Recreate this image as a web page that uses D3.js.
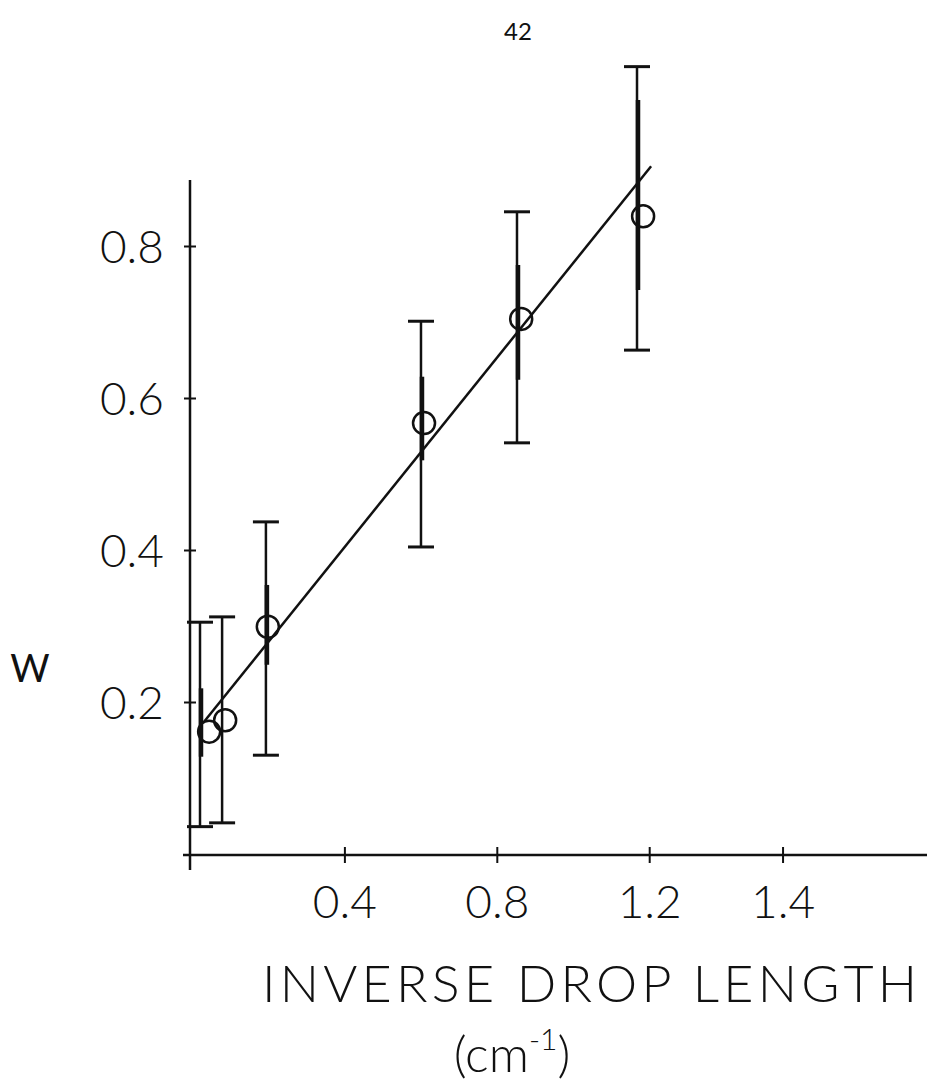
<!DOCTYPE html>
<html>
<head>
<meta charset="utf-8">
<script src="https://cdn.jsdelivr.net/npm/d3@7"></script>
<style>
  body { margin: 0; background: #fff; }
  svg text { font-family: Lato, 'DejaVu Sans', sans-serif; font-weight: 300; fill: #111; }
</style>
</head>
<body>
<div id="chart"></div>
<script>
// data
const xVals = [0.045, 0.087, 0.199, 0.609, 0.864, 1.184]
const yVals = [0.161, 0.176, 0.299, 0.567, 0.704, 0.839]
// error bars (drawn slightly off the point in the original)
const errX = [0.021, 0.079, 0.194, 0.601, 0.853, 1.168]
const errLow = [0.036, 0.041, 0.130, 0.404, 0.541, 0.663]
const errHigh = [0.305, 0.312, 0.437, 0.701, 0.845, 1.036]
const innerLow = [0.128, null, 0.249, 0.518, 0.624, 0.742]
const innerHigh = [0.218, null, 0.354, 0.628, 0.775, 0.992]
// straight fit line end points
const fitX = [0.03, 1.205]
const fitY = [0.173, 0.905]

const xTickValues = [0.4, 0.8, 1.2, 1.55]
const xTickLabels = ['0.4', '0.8', '1.2', '1.4']
const yTickValues = [0.2, 0.4, 0.6, 0.8]
const yTickLabels = ['0.2', '0.4', '0.6', '0.8']

const width = 927
const height = 1092
const x0 = 192 // pixel of x = 0
const y0 = 854 // pixel of y = 0

const svg = d3.select('#chart').append('svg').attr('width', width).attr('height', height)

const xScale = d3.scaleLinear().domain([0, 1]).range([x0, x0 + 381])
const yScale = d3.scaleLinear().domain([0, 1]).range([y0, y0 - 760])

// page number
svg.append('text').attr('x', 518).attr('y', 40).attr('text-anchor', 'middle')
  .attr('font-size', 24).style('font-weight', 400).text('42')

// axes drawn by hand style: plain lines with crossing ticks
const xAxis = d3.axisBottom(xScale)
  .tickValues(xTickValues)
  .tickFormat((d, i) => xTickLabels[i])
  .tickSizeInner(8).tickSizeOuter(0).tickPadding(22)

svg.append('g')
  .attr('class', 'x-axis')
  .attr('transform', `translate(0,${y0 + 1})`)
  .call(xAxis)
  .call((g) => {
    g.select('.domain').remove()
    g.selectAll('.tick line').attr('y1', -8).attr('stroke', '#111').attr('stroke-width', 2)
    g.selectAll('.tick text').attr('font-size', 46).attr('font-family', null).attr('fill', '#111')
  })

svg.append('line')
  .attr('x1', x0 - 9).attr('x2', width)
  .attr('y1', y0 + 1).attr('y2', y0 + 1)
  .attr('stroke', '#111').attr('stroke-width', 2.5)

const yAxis = d3.axisLeft(yScale)
  .tickValues(yTickValues)
  .tickFormat((d, i) => yTickLabels[i])
  .tickSizeInner(6).tickSizeOuter(0).tickPadding(20)

svg.append('g')
  .attr('class', 'y-axis')
  .attr('transform', `translate(${x0 - 2},0)`)
  .call(yAxis)
  .call((g) => {
    g.select('.domain').remove()
    g.selectAll('.tick line').attr('x2', -6).attr('x1', 6).attr('stroke', '#111').attr('stroke-width', 2)
    g.selectAll('.tick text').attr('font-size', 46).attr('font-family', null).attr('fill', '#111')
      .attr('dy', '0.36em')
  })

svg.append('line')
  .attr('x1', x0 - 2).attr('x2', x0 - 2)
  .attr('y1', yScale(0.887)).attr('y2', y0 + 16)
  .attr('stroke', '#111').attr('stroke-width', 2.5)

const pts = xVals.map((d, i) => ({
  x: d, y: yVals[i], ex: errX[i], lo: errLow[i], hi: errHigh[i], ilo: innerLow[i], ihi: innerHigh[i]
}))

const plot = svg.append('g').attr('stroke', '#111').attr('fill', 'none')

// thin outer error bars with caps
plot.selectAll('.err').data(pts).join('line')
  .attr('class', 'err')
  .attr('x1', (d) => xScale(d.ex)).attr('x2', (d) => xScale(d.ex))
  .attr('y1', (d) => yScale(d.lo)).attr('y2', (d) => yScale(d.hi))
  .attr('stroke-width', 2.5)

plot.selectAll('.cap-hi').data(pts).join('line')
  .attr('class', 'cap-hi')
  .attr('x1', (d) => xScale(d.ex) - 13).attr('x2', (d) => xScale(d.ex) + 13)
  .attr('y1', (d) => yScale(d.hi)).attr('y2', (d) => yScale(d.hi))
  .attr('stroke-width', 3)

plot.selectAll('.cap-lo').data(pts).join('line')
  .attr('class', 'cap-lo')
  .attr('x1', (d) => xScale(d.ex) - 13).attr('x2', (d) => xScale(d.ex) + 13)
  .attr('y1', (d) => yScale(d.lo)).attr('y2', (d) => yScale(d.lo))
  .attr('stroke-width', 3)

// thick inner bars
plot.selectAll('.inner').data(pts.filter((d) => d.ilo !== null)).join('line')
  .attr('class', 'inner')
  .attr('x1', (d) => xScale(d.ex) + 1).attr('x2', (d) => xScale(d.ex) + 1)
  .attr('y1', (d) => yScale(d.ilo)).attr('y2', (d) => yScale(d.ihi))
  .attr('stroke-width', 4.5)

// fit line
plot.append('line')
  .attr('x1', xScale(fitX[0])).attr('y1', yScale(fitY[0]))
  .attr('x2', xScale(fitX[1])).attr('y2', yScale(fitY[1]))
  .attr('stroke-width', 2.5)

// open circles
plot.selectAll('.pt').data(pts).join('circle')
  .attr('class', 'pt')
  .attr('cx', (d) => xScale(d.x)).attr('cy', (d) => yScale(d.y))
  .attr('r', 11)
  .attr('fill', 'none')
  .attr('stroke-width', 2.5)

// axis titles
svg.append('text')
  .attr('x', 30).attr('y', 682)
  .attr('text-anchor', 'middle').attr('font-size', 38).style('font-weight', 400)
  .text('W')

svg.append('text')
  .attr('x', 262).attr('y', 1002)
  .attr('font-size', 52)
  .attr('textLength', 655).attr('lengthAdjust', 'spacing')
  .text('INVERSE DROP LENGTH')

const unit = svg.append('text')
  .attr('x', 512).attr('y', 1072)
  .attr('text-anchor', 'middle').attr('font-size', 50)
unit.append('tspan').text('(cm')
unit.append('tspan').attr('font-size', 30).attr('dy', -22).text('-1')
unit.append('tspan').attr('dy', 22).text(')')
</script>
</body>
</html>
